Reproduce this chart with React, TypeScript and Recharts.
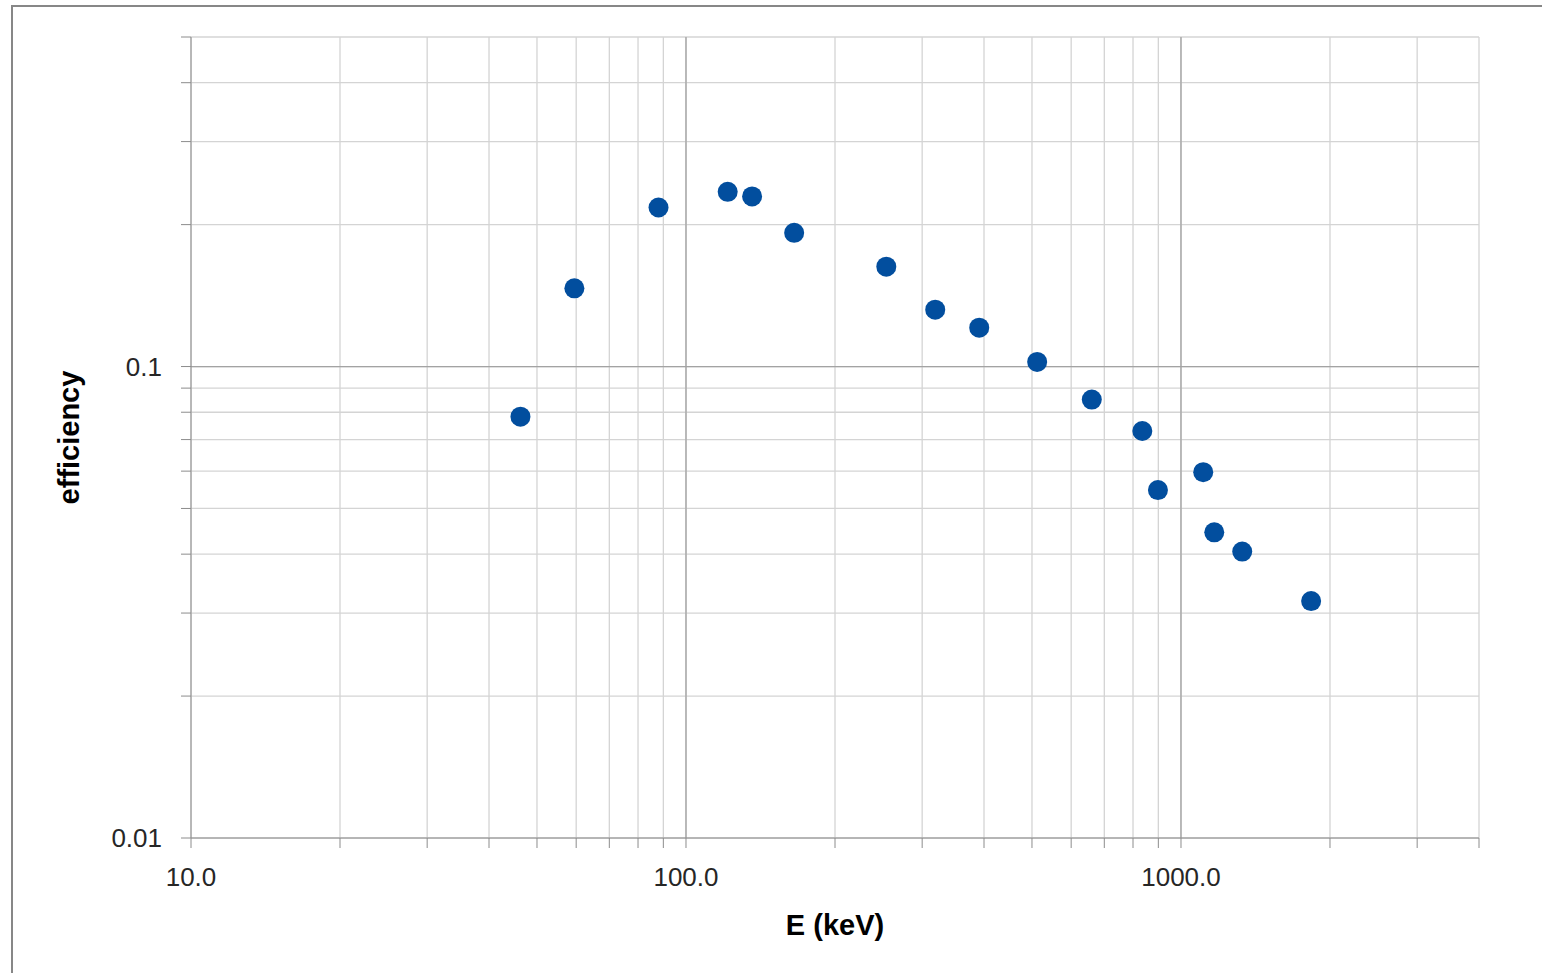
import React from 'react';
import {
  ScatterChart,
  Scatter,
  XAxis,
  YAxis,
  CartesianGrid,
  ReferenceLine,
} from 'recharts';

// Energies (keV) of the measured lines
const energies: number[] = [46.3, 59.5, 88.0, 121.4, 136.0, 165.4, 253.9, 318.8, 391.2, 512.2, 660.4, 835.3, 898.4, 1109, 1167.5, 1329.6, 1832];
// Measured efficiency at each energy
const efficiencies: number[] = [0.0783, 0.1465, 0.2174, 0.2347, 0.2295, 0.1921, 0.1629, 0.132, 0.1209, 0.1023, 0.0851, 0.073, 0.0547, 0.0597, 0.0445, 0.0405, 0.0318];

// Axis ticks (log axes, with minor gridlines)
const xTicks: number[] = [10, 20, 30, 40, 50, 60, 70, 80, 90, 100, 200, 300, 400, 500, 600, 700, 800, 900, 1000, 2000, 3000, 4000];
const xMajor: number[] = [10, 100, 1000];
const yTicks: number[] = [0.01, 0.02, 0.03, 0.04, 0.05, 0.06, 0.07, 0.08, 0.09, 0.1, 0.2, 0.3, 0.4, 0.5];
const yMajor: number[] = [0.01, 0.1];

const xTitle = 'E (keV)';
const yTitle = 'efficiency';

const data = energies.map((e, i) => ({ x: e, y: efficiencies[i] }));

const FONT = '"Liberation Sans", Arial, sans-serif';
const POINT_COLOR = '#024E9E';

const Dot = (props: any) => {
  const { cx, cy } = props;
  if (cx == null || cy == null) return null;
  return <circle cx={cx} cy={cy} r={10} fill={POINT_COLOR} />;
};

export default function App() {
  return (
    <div
      style={{
        position: 'fixed',
        left: 0,
        top: 0,
        width: 1542,
        height: 973,
        background: '#fff',
        overflow: 'hidden',
      }}
    >
      <div
        style={{
          position: 'absolute',
          left: 11,
          top: 5,
          width: 1700,
          height: 1100,
          borderTop: '2px solid #878787',
          borderLeft: '2px solid #878787',
        }}
      />
      <div style={{ position: 'absolute', left: 0, top: 0 }}>
        <ScatterChart
          width={1542}
          height={973}
          margin={{ top: 37, right: 63, bottom: 75, left: 91 }}
        >
          <CartesianGrid stroke="#d4d4d4" strokeWidth={1.3} />
          <XAxis
            type="number"
            dataKey="x"
            scale="log"
            domain={[10, 4000]}
            ticks={xTicks}
            interval={0}
            allowDataOverflow
            height={60}
            tickSize={10}
            tickMargin={20}
            stroke="#8c8c8c"
            tick={{ fill: '#262626', fontSize: 26, fontFamily: FONT }}
            tickFormatter={(v: number) => (xMajor.includes(v) ? v.toFixed(1) : '')}
            label={{
              value: xTitle,
              position: 'bottom',
              offset: 16,
              style: { fill: '#000', fontSize: 29, fontWeight: 'bold', fontFamily: FONT },
            }}
          />
          <YAxis
            type="number"
            dataKey="y"
            scale="log"
            domain={[0.01, 0.5]}
            ticks={yTicks}
            interval={0}
            allowDataOverflow
            width={100}
            tickSize={10}
            tickMargin={19}
            stroke="#8c8c8c"
            tick={{ fill: '#262626', fontSize: 26, fontFamily: FONT }}
            tickFormatter={(v: number) => (yMajor.includes(v) ? String(v) : '')}
            label={{
              value: yTitle,
              angle: -90,
              position: 'left',
              offset: 22,
              style: { textAnchor: 'middle', fill: '#000', fontSize: 29, fontWeight: 'bold', fontFamily: FONT },
            }}
          />
          <ReferenceLine x={100} stroke="#a3a3a3" strokeWidth={1.3} />
          <ReferenceLine x={1000} stroke="#a3a3a3" strokeWidth={1.3} />
          <ReferenceLine y={0.1} stroke="#a3a3a3" strokeWidth={1.3} />
          <Scatter data={data} fill={POINT_COLOR} shape={<Dot />} isAnimationActive={false} />
        </ScatterChart>
      </div>
    </div>
  );
}
